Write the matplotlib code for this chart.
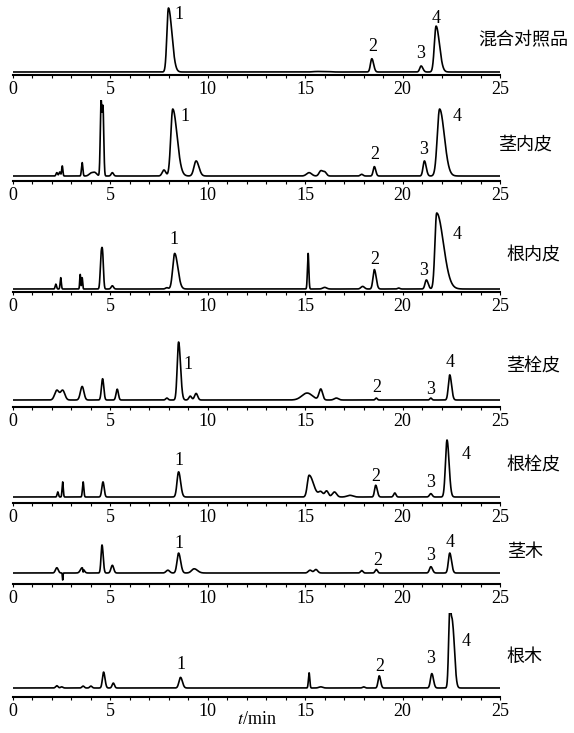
import numpy as np
import matplotlib
matplotlib.use("Agg")
import matplotlib.pyplot as plt
from matplotlib.ticker import MultipleLocator

plt.rcParams['font.family'] = ['Liberation Serif', 'DejaVu Serif']
plt.rcParams['mathtext.fontset'] = 'stix'

# --------------------
# 1. Data (time min, peak height, width, tailing)
# --------------------
names = ["混合对照品", "茎内皮", "根内皮", "茎栓皮", "根栓皮", "茎木", "根木"]

p1_t = [7.98, 15.6, 16.1, 18.42, 20.95, 21.72]
p1_h = [265, 2, 2, 55, 25, 190]
p1_w = [0.08, 0.2, 0.2, 0.07, 0.07, 0.09]
p1_k = [2.2, 1, 1, 1.3, 1.3, 1.9]

p2_t = [2.25, 2.4, 2.53, 3.55, 4.0, 4.2, 4.52, 4.62, 5.1, 7.75, 8.2, 9.4,
        15.2, 15.8, 16.0, 17.9, 18.55, 21.12, 21.9]
p2_h = [10, 12, 30, 40, 8, 10, 218, 200, 10, 18, 200, 45, 10, 15, 12, 5, 28, 45, 200]
p2_w = [0.04, 0.04, 0.03, 0.035, 0.1, 0.1, 0.04, 0.04, 0.06, 0.09, 0.1, 0.11,
        0.13, 0.09, 0.09, 0.07, 0.06, 0.07, 0.12]
p2_k = [1, 1, 1, 1, 1, 1, 1, 1, 1, 1, 2.2, 1.3, 1, 1, 1, 1, 1.2, 1.3, 2.0]

p3_t = [2.2, 2.45, 3.45, 3.55, 4.52, 4.6, 5.1, 7.9, 8.3, 15.15, 16.0, 17.95,
        18.55, 19.8, 21.22, 21.75]
p3_h = [15, 35, 45, 35, 90, 100, 10, 4, 110, 110, 5, 8, 60, 3, 28, 235]
p3_w = [0.035, 0.03, 0.025, 0.025, 0.045, 0.045, 0.06, 0.07, 0.1, 0.035, 0.1, 0.09,
        0.07, 0.06, 0.07, 0.09]
p3_k = [1, 1, 1, 1, 1, 1, 1, 1, 1.6, 1, 1, 1, 1.3, 1, 1.3, 3.8]

p4_t = [2.25, 2.55, 3.55, 4.6, 5.35, 7.9, 8.5, 9.1, 9.4, 15.1, 15.8, 16.6,
        18.65, 21.45, 22.42]
p4_h = [25, 25, 35, 55, 28, 5, 150, 10, 17, 18, 28, 5, 5, 5, 65]
p4_w = [0.11, 0.11, 0.09, 0.06, 0.06, 0.06, 0.07, 0.07, 0.08, 0.27, 0.09, 0.11,
        0.05, 0.05, 0.07]
p4_k = [1, 1, 1, 1, 1, 1, 1.4, 1, 1, 1, 1, 1, 1, 1, 1.3]

p5_t = [2.3, 2.55, 3.6, 4.62, 8.5, 15.2, 15.8, 16.1, 16.5, 17.3, 18.62,
        19.6, 21.45, 22.28]
p5_h = [15, 45, 45, 45, 75, 65, 15, 18, 15, 5, 35, 12, 10, 170]
p5_w = [0.035, 0.03, 0.035, 0.06, 0.08, 0.09, 0.11, 0.09, 0.11, 0.15, 0.06,
        0.06, 0.07, 0.08]
p5_k = [1, 1, 1, 1, 1.3, 2.5, 1, 1, 1, 1, 1.3, 1, 1, 1.3]

p6_t = [2.25, 2.55, 3.55, 3.6, 4.57, 5.1, 7.95, 8.5, 9.3, 15.25, 15.55, 17.9,
        18.65, 21.45, 22.42]
p6_h = [15, -20, 15, -10, 80, 22, 8, 57, 12, 8, 10, 7, 10, 18, 57]
p6_w = [0.07, 0.015, 0.09, 0.015, 0.05, 0.07, 0.09, 0.08, 0.13, 0.09, 0.09,
        0.06, 0.06, 0.07, 0.07]
p6_k = [1, 1, 1, 1, 1.2, 1, 1, 1.3, 1.3, 1, 1, 1, 1, 1.2, 1.3]

p7_t = [2.25, 2.5, 3.6, 4.0, 4.65, 5.15, 8.6, 15.2, 15.8, 18.0, 18.8,
        21.5, 22.42, 22.56]
p7_h = [6, 3, 5, 5, 42, 13, 28, 40, 3, 3, 32, 38, 190, 165]
p7_w = [0.06, 0.06, 0.06, 0.06, 0.06, 0.06, 0.08, 0.035, 0.1, 0.06, 0.06,
        0.07, 0.06, 0.07]
p7_k = [1, 1, 1, 1, 1.2, 1, 1.2, 1, 1, 1, 1.2, 1.2, 1, 1.5]

peaks = [(p1_t, p1_h, p1_w, p1_k), (p2_t, p2_h, p2_w, p2_k), (p3_t, p3_h, p3_w, p3_k),
         (p4_t, p4_h, p4_w, p4_k), (p5_t, p5_h, p5_w, p5_k), (p6_t, p6_h, p6_w, p6_k),
         (p7_t, p7_h, p7_w, p7_k)]

# numbered peak labels: time and height (same units as peak heights)
lab_t = [[8.5, 18.45, 20.95, 21.72],
         [8.85, 18.55, 21.1, 22.8],
         [8.25, 18.55, 21.1, 22.8],
         [9.0, 18.65, 21.45, 22.45],
         [8.5, 18.6, 21.45, 23.25],
         [8.5, 18.7, 21.45, 22.45],
         [8.6, 18.85, 21.45, 23.25]]
lab_h = [[240, 105, 78, 222],
         [178, 63, 78, 178],
         [154, 92, 57, 167],
         [93, 33, 28, 98],
         [108, 60, 43, 128],
         [83, 35, 51, 88],
         [62, 57, 77, 122]]

# --------------------
# 2. Layout in pixels of the 574x733 picture
# --------------------
W, H = 574, 733
x0_px, x1_px = 13, 500
axis_y = [75, 181, 292, 407, 503, 584, 697]
base_y = [72, 176, 289, 400, 497, 573, 688]
top_y = [8, 103, 213, 342, 440, 545, 616]
name_xy = [(478, 40), (498, 145), (506, 256), (506, 367), (506, 466), (507, 552), (506, 657)]

t = np.linspace(0, 25, 6001)

fig = plt.figure(figsize=(W / 100, H / 100), dpi=100)

for i in range(7):
    tt, hh, ww, kk = peaks[i]
    sig = np.zeros_like(t)
    for t0, h0, w0, k0 in zip(tt, hh, ww, kk):
        s = np.where(t < t0, w0, w0 * k0)
        sig += h0 * np.exp(-0.5 * ((t - t0) / s) ** 2)

    span = axis_y[i] - top_y[i] + 3
    ax = fig.add_axes([x0_px / W, 1 - axis_y[i] / H, (x1_px - x0_px) / W, span / H])
    scale = (base_y[i] - top_y[i]) / max(hh)
    off = axis_y[i] - base_y[i]
    ax.plot(t, off + scale * sig, color='black', lw=1.2)

    for n, (lt, lh) in enumerate(zip(lab_t[i], lab_h[i])):
        ax.text(lt, off + scale * lh, str(n + 1), ha='center', va='center',
                fontsize=13, clip_on=False)

    ax.set_xlim(0, 25)
    ax.set_ylim(0, span)
    for side in ['top', 'right', 'left']:
        ax.spines[side].set_visible(False)
    ax.spines['bottom'].set_linewidth(1.5)
    ax.set_yticks([])
    ax.xaxis.set_major_locator(MultipleLocator(5))
    ax.xaxis.set_minor_locator(MultipleLocator(1))
    ax.tick_params(axis='x', which='both', direction='out', length=2.5, width=0.8,
                   labelsize=13, pad=1.5)
    ax.patch.set_visible(False)

    nx, ny = name_xy[i]
    fig.text(nx / W, 1 - ny / H, names[i], ha='left', va='center', fontsize=13,
             family=['Noto Sans CJK SC', 'DejaVu Sans'])

fig.text(0.5 * (x0_px + x1_px) / W, 1 - 720 / H, r'$t$/min', ha='center', va='center',
         fontsize=13)

fig.savefig("out.png", dpi=100)
